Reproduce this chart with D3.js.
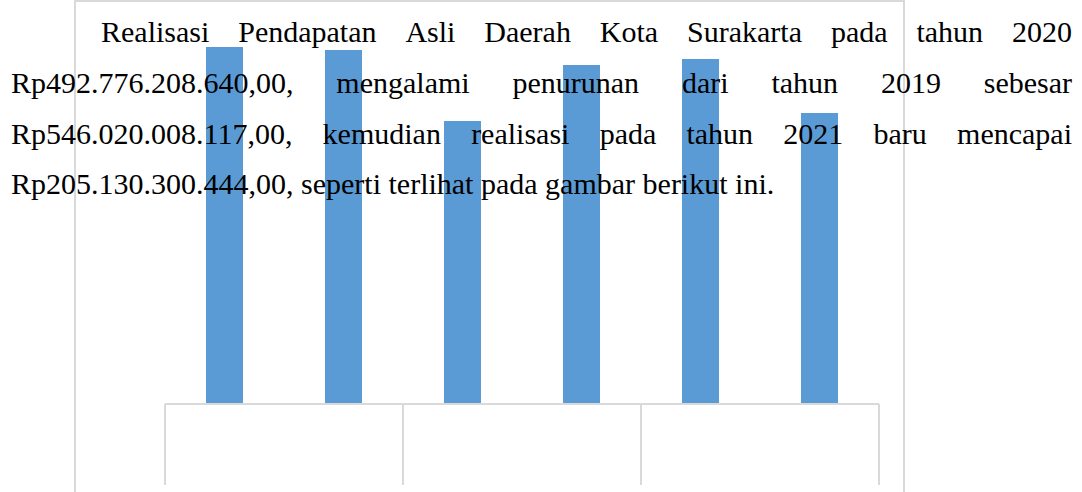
<!DOCTYPE html>
<meta charset="utf-8">
<script src="https://d3js.org/d3.v7.min.js"></script>
<style>
  body { margin: 0; background: #fff; }
</style>
<body>
<div id="canvas"></div>
<script>

    // data -----------------------------------------------------------
    var groups = ["2019", "2020", "2021"];
    var subCategories = ["Target", "Realisasi"];
    // bar heights (no value axis is visible)
    var values = [357, 354, 283, 339, 345, 291];

    var paragraph = [
        "Realisasi Pendapatan Asli Daerah Kota Surakarta pada tahun 2020",
        "Rp492.776.208.640,00, mengalami penurunan dari tahun 2019 sebesar",
        "Rp546.020.008.117,00, kemudian realisasi pada tahun 2021 baru mencapai",
        "Rp205.130.300.444,00, seperti terlihat pada gambar berikut ini."
    ];

    var width = 1082;
    var height = 492;

    var svg = d3.select('#canvas')
        .append("svg")
        .attr("width", width)
        .attr("height", height)
        .style("display", "block");

    var gridColor = "#d9d9d9";
    var barColor = "#5b9bd5";

    // chart frame (only left, top and right edges are in view)
    var frame = {left: 75, top: 1, right: 904, bottom: 520};
    svg.append("path")
        .attr("d", "M" + frame.left + "," + frame.bottom + "V" + frame.top + "H" + frame.right + "V" + frame.bottom)
        .attr("fill", "none")
        .attr("stroke", gridColor)
        .attr("stroke-width", 2);

    // plot area
    var plot = {left: 165, right: 879, top: 0, bottom: 404};

    var cats = [];
    groups.forEach(function(g) {
        subCategories.forEach(function(s) { cats.push(g + " " + s); });
    });

    var pad = 1 - 37 / 119;
    var x = d3.scaleBand()
        .domain(cats)
        .range([plot.left, plot.right])
        .paddingInner(pad)
        .paddingOuter(pad / 2);

    var y = d3.scaleLinear()
        .domain([0, 404])
        .range([plot.bottom, plot.top]);

    // bars
    svg.selectAll(".bar")
        .data(values)
        .enter()
        .append("rect")
        .attr("class", "bar")
        .attr("x", function(d, i) { return x(cats[i]); })
        .attr("y", function(d) { return y(d); })
        .attr("width", x.bandwidth())
        .attr("height", function(d) { return y(0) - y(d); })
        .attr("fill", barColor);

    // multi-level category axis: baseline + group dividers
    var gx = d3.scaleBand()
        .domain(groups)
        .range([plot.left, plot.right]);

    var axisG = svg.append("g")
        .attr("stroke", gridColor)
        .attr("stroke-width", 2);

    axisG.append("line")
        .attr("x1", plot.left).attr("x2", plot.right)
        .attr("y1", plot.bottom).attr("y2", plot.bottom);

    var dividers = groups.map(function(g) { return gx(g); }).concat([plot.right]);
    axisG.selectAll(".divider")
        .data(dividers)
        .enter()
        .append("line")
        .attr("x1", function(d) { return d; })
        .attr("x2", function(d) { return d; })
        .attr("y1", plot.bottom)
        .attr("y2", 485);

    // justified paragraph on top of the chart ---------------------------
    var fontSize = 30;
    var lineLeft = 11, lineRight = 1072, indent = 90;
    var firstBaseline = 42, lineStep = 50.8;

    var textG = svg.append("g")
        .style("font-family", "'Liberation Serif', 'Times New Roman', serif")
        .style("font-size", fontSize + "px")
        .attr("fill", "#000");

    var measure = textG.append("text");
    function textWidth(s) {
        measure.text(s);
        return measure.node().getComputedTextLength();
    }
    var spaceW = textWidth("a a") - textWidth("aa");

    paragraph.forEach(function(line, li) {
        var words = line.split(" ");
        var left = lineLeft + (li === 0 ? indent : 0);
        var widths = words.map(textWidth);
        var total = d3.sum(widths);
        var last = li === paragraph.length - 1;
        var gap = last ? spaceW : (lineRight - left - total) / (words.length - 1);

        var t = textG.append("text")
            .attr("y", firstBaseline + li * lineStep);
        var cx = left;
        words.forEach(function(w, wi) {
            t.append("tspan").attr("x", cx).text(w);
            cx += widths[wi] + gap;
        });
    });
    measure.remove();

</script>
</body>
